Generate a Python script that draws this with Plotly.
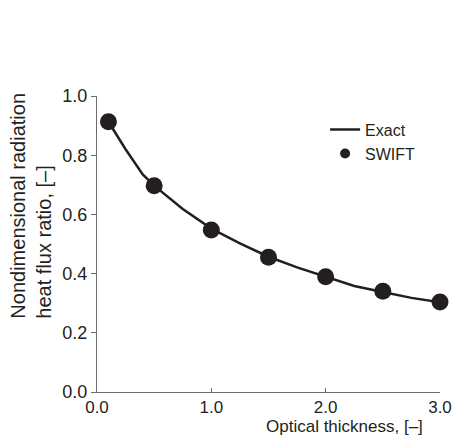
import plotly.graph_objects as go

# Exact solution curve
exact_tau = [0.1, 0.25, 0.4, 0.5, 0.75, 1.0, 1.25, 1.5, 1.75, 2.0, 2.25, 2.5, 2.75, 3.0]
exact_ratio = [0.913, 0.82, 0.735, 0.697, 0.618, 0.552, 0.502, 0.457, 0.421, 0.389, 0.358, 0.338, 0.318, 0.303]

# SWIFT results
swift_tau = [0.1, 0.5, 1.0, 1.5, 2.0, 2.5, 3.0]
swift_ratio = [0.913, 0.697, 0.547, 0.455, 0.389, 0.340, 0.304]

x_ticks = [0.0, 1.0, 2.0, 3.0]
x_ticklabels = ["0.0", "1.0", "2.0", "3.0"]
y_ticks = [0.0, 0.2, 0.4, 0.6, 0.8, 1.0]
y_ticklabels = ["0.0", "0.2", "0.4", "0.6", "0.8", "1.0"]

INK = "#231f20"
AXIS = "#6d6d6d"
FONT = "Liberation Sans, Arial, Helvetica, sans-serif"

fig = go.Figure()
fig.add_trace(go.Scatter(
    x=exact_tau, y=exact_ratio, mode="lines", name="Exact",
    line=dict(color=INK, width=2.5), cliponaxis=False,
))
fig.add_trace(go.Scatter(
    x=swift_tau, y=swift_ratio, mode="markers", name="SWIFT",
    marker=dict(color=INK, size=17, line=dict(width=0)), cliponaxis=False,
    showlegend=False, legendgroup="swift",
))
# legend entry for SWIFT with a smaller symbol
fig.add_trace(go.Scatter(
    x=[None], y=[None], mode="markers", name="SWIFT",
    marker=dict(color=INK, size=10, line=dict(width=0)),
    legendgroup="swift",
))

fig.update_layout(
    width=458, height=438,
    margin=dict(l=97, r=18, t=96, b=46, autoexpand=False),
    paper_bgcolor="white", plot_bgcolor="white",
    font=dict(family=FONT, color=INK, size=17),
    showlegend=True,
    legend=dict(
        x=0.665, y=0.9435, xanchor="left", yanchor="top",
        bgcolor="rgba(0,0,0,0)", font=dict(size=16, color=INK),
        tracegroupgap=0,
    ),
    xaxis=dict(
        range=[0, 3], tickvals=x_ticks, ticktext=x_ticklabels,
        showgrid=False, zeroline=False, showline=True, automargin=False,
        linecolor=AXIS, linewidth=1, ticks="inside", ticklen=4,
        tickcolor=AXIS, tickfont=dict(size=17, color=INK),
    ),
    yaxis=dict(
        range=[0, 1], tickvals=y_ticks, ticktext=y_ticklabels,
        showgrid=False, zeroline=False, showline=True, automargin=False,
        linecolor=AXIS, linewidth=1, ticks="outside", ticklen=5,
        tickcolor=AXIS, tickfont=dict(size=18, color=INK),
    ),
    annotations=[
        dict(
            text="Nondimensional radiation<br>heat flux ratio, [\u2013]",
            xref="paper", yref="paper", x=-0.267, y=0.2425,
            xanchor="left", yanchor="bottom", textangle=-90, align="left",
            showarrow=False, font=dict(size=20, color=INK, family=FONT),
        ),
        dict(
            text="Optical thickness, [\u2013]",
            xref="paper", yref="paper", x=0.955, y=-0.117,
            xanchor="right", yanchor="middle",
            showarrow=False, font=dict(size=17, color=INK, family=FONT),
        ),
    ],
)

fig.write_html("out.html")
